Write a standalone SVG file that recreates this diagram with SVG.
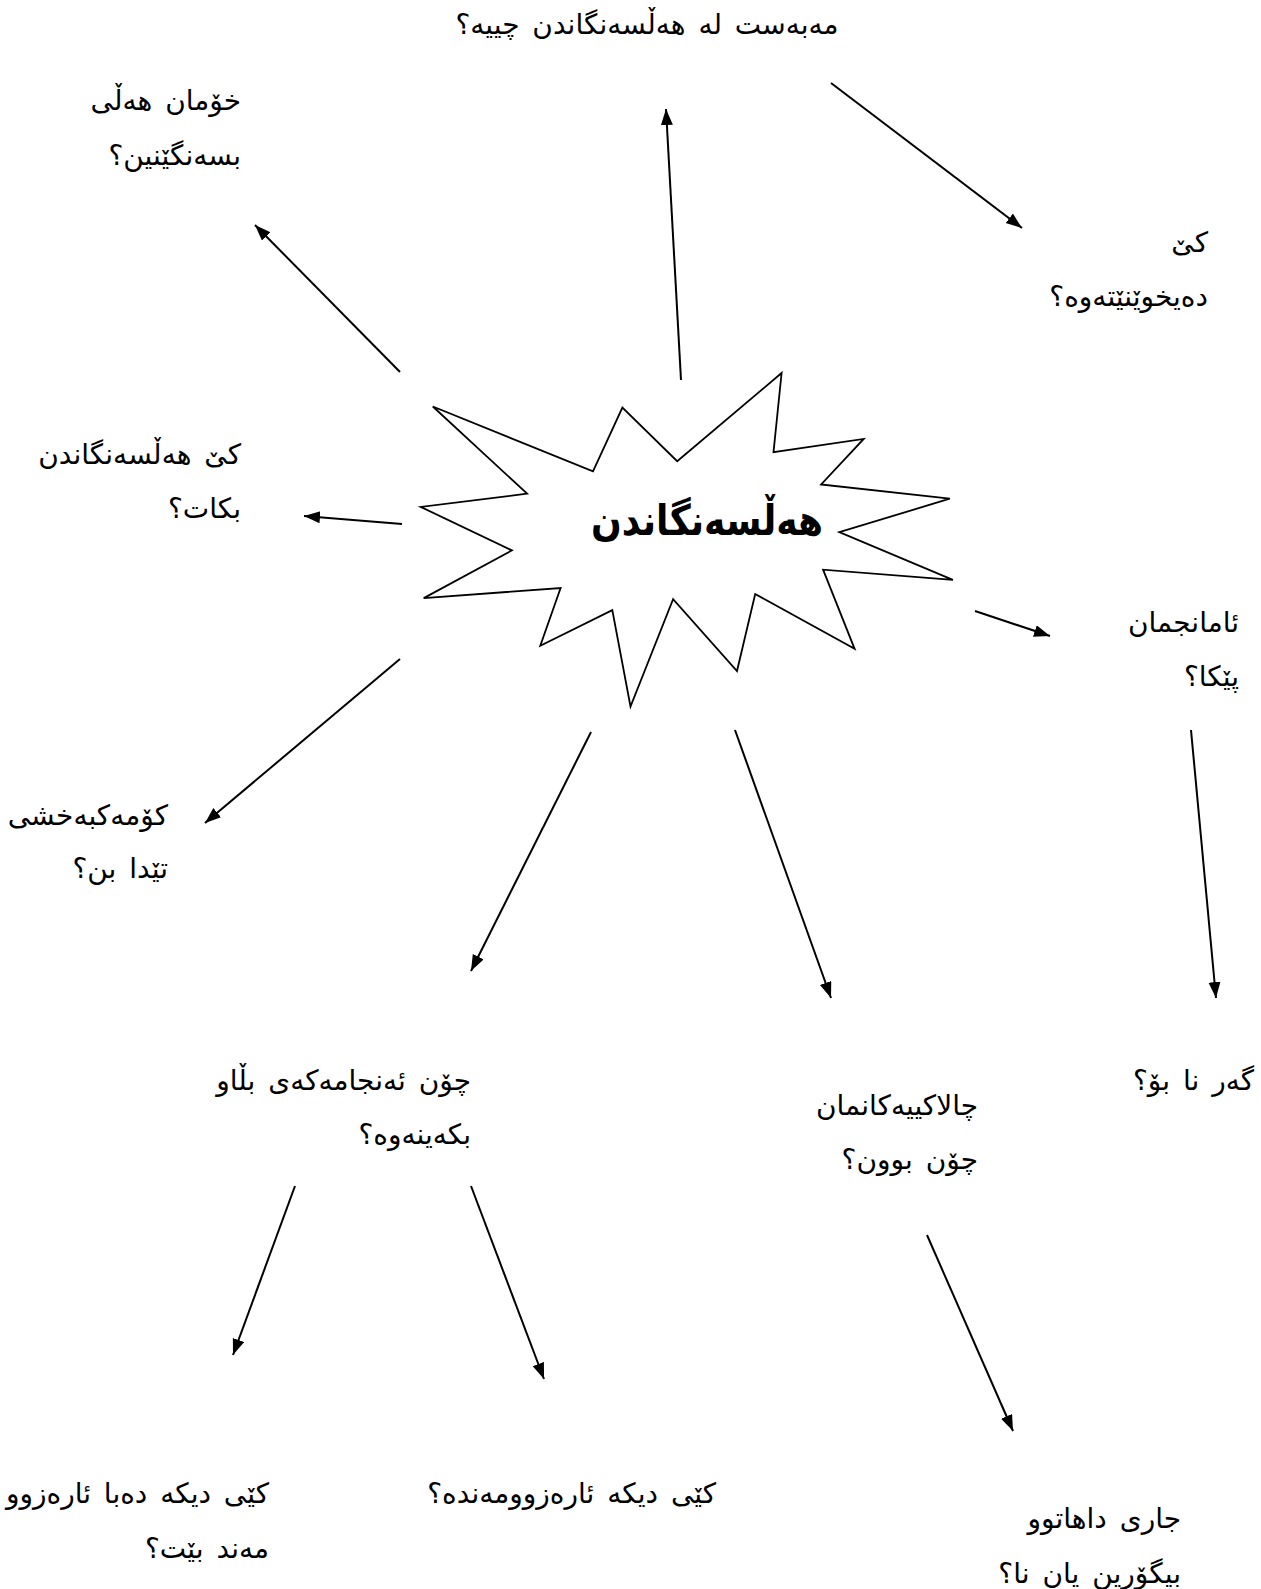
<svg xmlns="http://www.w3.org/2000/svg" width="1261" height="1589" viewBox="0 0 1261 1589">
<defs>
<style>
.t{font-family:"DejaVu Sans",sans-serif;font-size:28px;word-spacing:4px;fill:#000;text-anchor:end}
.c{text-anchor:middle}
.title{font-family:"DejaVu Sans",sans-serif;font-size:42px;font-weight:bold;fill:#000;text-anchor:middle}
.star{fill:#fff;stroke:#000;stroke-width:1.8;stroke-linejoin:miter}
.ln{stroke:#000;stroke-width:2;fill:none;marker-end:url(#ah)}
</style>
<marker id="ah" markerUnits="userSpaceOnUse" markerWidth="18" markerHeight="14" refX="16" refY="6" orient="auto">
<path d="M0,0 L16,6 L0,12 z" fill="#000"/>
</marker>
</defs>
<rect width="1261" height="1589" fill="#fff"/>
<g id="center">
<polygon class="star" points="432.8,406.5 593,471.4 622.4,407.5 677.2,461.2 781.6,373 773.5,452.1 863.7,438.9 821.1,484.5 949.8,498.7 839.3,532.2 952.9,579.8 823.1,569.7 854.6,648.8 755.2,594 737,671 673.1,599.1 630.5,706.5 612.3,610.2 540.3,645.7 560.6,588 423.7,598.1 511.9,550.4 420.7,506.9 527.1,493.7"/>
<text class="title" x="707" y="535" textLength="232" lengthAdjust="spacingAndGlyphs">هەڵسەنگاندن</text>
</g>
<g id="connectors">
<line class="ln" x1="681" y1="380" x2="666" y2="109"/>
<line class="ln" x1="400" y1="372" x2="255" y2="225"/>
<line class="ln" x1="831" y1="83" x2="1022" y2="228"/>
<line class="ln" x1="402" y1="524" x2="304" y2="516"/>
<line class="ln" x1="975" y1="611" x2="1050" y2="636"/>
<line class="ln" x1="400" y1="659" x2="205" y2="823"/>
<line class="ln" x1="591" y1="732" x2="471" y2="971"/>
<line class="ln" x1="735" y1="730" x2="831" y2="998"/>
<line class="ln" x1="1191" y1="730" x2="1216" y2="998"/>
<line class="ln" x1="295" y1="1186" x2="233" y2="1355"/>
<line class="ln" x1="471" y1="1186" x2="544" y2="1379"/>
<line class="ln" x1="927" y1="1235" x2="1013" y2="1431"/>
</g>
<g id="n-purpose"><text class="t c" x="647" y="34">مەبەست لە هەڵسەنگاندن چییە؟</text></g>
<g id="n-self"><text class="t" x="241" y="110">خۆمان هەڵی</text><text class="t" x="241" y="165">بسەنگێنین؟</text></g>
<g id="n-reader"><text class="t" x="1208" y="252">کێ</text><text class="t" x="1208" y="306">دەیخوێنێتەوە؟</text></g>
<g id="n-who"><text class="t" x="241" y="464">کێ هەڵسەنگاندن</text><text class="t" x="241" y="518">بکات؟</text></g>
<g id="n-goals"><text class="t" x="1239" y="632">ئامانجمان</text><text class="t" x="1239" y="686">پێکا؟</text></g>
<g id="n-donors"><text class="t" x="168" y="825">کۆمەکبەخشی</text><text class="t" x="168" y="878">تێدا بن؟</text></g>
<g id="n-spread"><text class="t" x="471" y="1090">چۆن ئەنجامەکەی بڵاو</text><text class="t" x="471" y="1144">بکەینەوە؟</text></g>
<g id="n-activities"><text class="t" x="978" y="1115">چالاکییەکانمان</text><text class="t" x="978" y="1169">چۆن بوون؟</text></g>
<g id="n-ifnot"><text class="t" x="1254" y="1090">گەر نا بۆ؟</text></g>
<g id="n-who-else"><text class="t" x="269" y="1503">کێی دیکە دەبا ئارەزوو</text><text class="t" x="269" y="1558">مەند بێت؟</text></g>
<g id="n-interested"><text class="t" x="716" y="1503">کێی دیکە ئارەزوومەندە؟</text></g>
<g id="n-next"><text class="t" x="1181" y="1528">جاری داهاتوو</text><text class="t" x="1181" y="1583">بیگۆرین یان نا؟</text></g>
</svg>
